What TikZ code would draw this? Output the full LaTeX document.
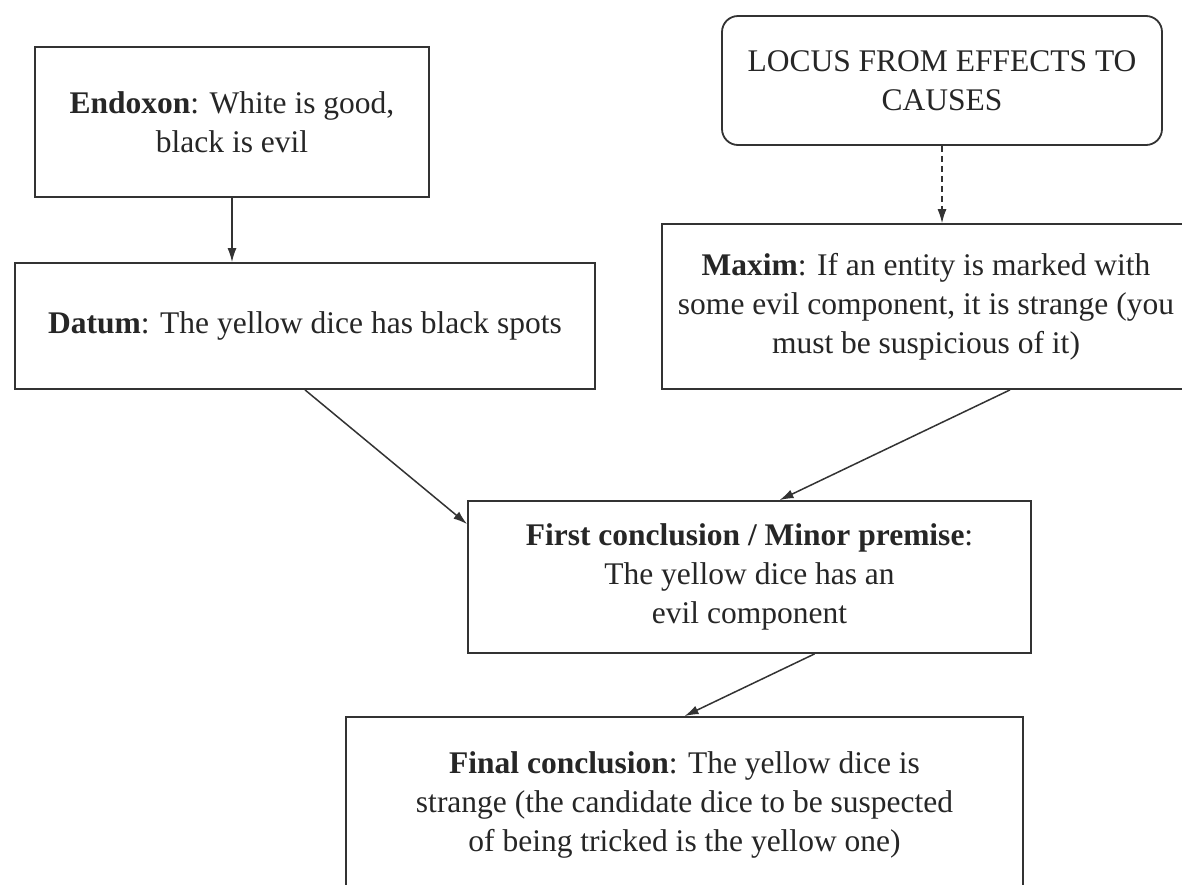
\documentclass[tikz,border=0pt]{standalone}
\usepackage{fontspec}
\setmainfont{Liberation Serif}
\usetikzlibrary{arrows.meta}

\begin{document}
\begin{tikzpicture}[x=1pt, y=-1pt, >={Latex[length=14pt,width=9pt]},
  box/.style = {draw=black!80, line width=1.8pt, align=center, inner sep=0pt, text=black!85, font=\fontsize{31.5}{39}\selectfont},
  link/.style = {->, draw=black!80, line width=1.5pt}]

% Page
\clip (0,0) rectangle (1182,884);
\fill[white] (0,0) rectangle (1182,884);

% Boxes
\node[box, minimum width=394pt, minimum height=150pt] (endoxon) at (232,122) {\textbf{Endoxon}: White is good,\\ black is evil};
\node[box, rounded corners=16pt, minimum width=440pt, minimum height=129pt] (locus) at (942,80.5) {LOCUS FROM EFFECTS TO\\ CAUSES};
\node[box, minimum width=580pt, minimum height=126pt] (datum) at (305,326) {\textbf{Datum}: The yellow dice has black spots};
\node[box, minimum width=528pt, minimum height=165pt] (maxim) at (926,306.5) {\textbf{Maxim}: If an entity is marked with\\ some evil component, it is strange (you\\ must be suspicious of it)};
\node[box, minimum width=563pt, minimum height=152pt] (first) at (749.5,577) {\textbf{First conclusion / Minor premise}:\\ The yellow dice has an\\ evil component};
\node[box, minimum width=677pt, minimum height=176pt] (final) at (684.5,805) {\textbf{Final conclusion}: The yellow dice is\\ strange (the candidate dice to be suspected\\ of being tricked is the yellow one)};

% Arrows
\draw[link] (endoxon.south) -- (endoxon.south |- datum.north);
\draw[link, line width=1.2pt, dash pattern=on 6pt off 4pt] (locus.south) -- (locus.south |- maxim.north);
\draw[link] (datum.south) -- ([yshift=-24pt]first.north west);
\draw[link] ([xshift=84pt]maxim.south) -- ([xshift=30pt]first.north);
\draw[link] ([xshift=65pt]first.south) -- (final.north);

\end{tikzpicture}
\end{document}
